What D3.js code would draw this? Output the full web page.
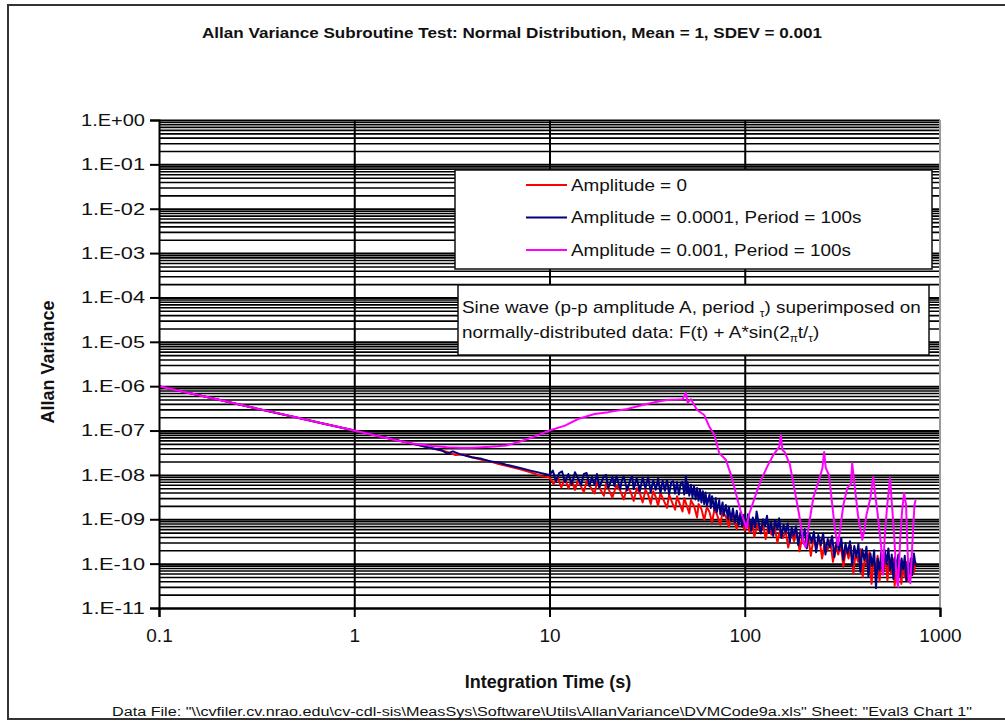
<!DOCTYPE html>
<html>
<head>
    <meta charset="utf-8">
    <script src="https://d3js.org/d3.v7.min.js"></script>
    <title>Allan Variance</title>
    <style>
        body { margin: 0; background: #fff; }
        .gridlines line { stroke: #000; }
        .gridlines .domain { stroke: none; }
        text { font-family: "Liberation Sans", Arial, sans-serif; fill: #111; }
    </style>
</head>
<body>
<svg id="svg1"></svg>
<script>
// tick values / labels
const xTicks = [0.1, 1, 10, 100, 1000];
const xTickLabels = ["0.1", "1", "10", "100", "1000"];
const yTicks = [1e0, 1e-1, 1e-2, 1e-3, 1e-4, 1e-5, 1e-6, 1e-7, 1e-8, 1e-9, 1e-10, 1e-11];
const yTickLabels = ["1.E+00", "1.E-01", "1.E-02", "1.E-03", "1.E-04", "1.E-05",
                     "1.E-06", "1.E-07", "1.E-08", "1.E-09", "1.E-10", "1.E-11"];

const legendLabels = ["Amplitude = 0", "Amplitude = 0.0001, Period = 100s", "Amplitude = 0.001, Period = 100s"];

// [tau (s), Allan variance]
const ampZero = [
    [0.1, 1e-6], [0.2, 5e-7], [0.3, 3.3e-7], [0.5, 2e-7], [0.7, 1.43e-7], [1, 1e-7], [1.5, 6.7e-8],
    [2, 5e-8], [2.5, 4e-8], [3, 3.3e-8], [3.3, 2.8e-8], [3.6, 2.9e-8], [4, 2.5e-8], [4.5, 2.2e-8],
    [5, 2.0e-8], [5.5, 1.75e-8], [6, 1.6e-8], [7, 1.35e-8], [8, 1.15e-8], [9, 9.5e-9],
    [10, 8.8e-9], [10.5, 6.2e-9], [11, 9.0e-9], [11.5, 5.2e-9], [12, 8.4e-9], [12.5, 5.0e-9], [13, 7.8e-9],
    [13.5, 4.6e-9], [14, 7.6e-9], [15, 4.1e-9], [15.5, 7.2e-9], [16, 5.8e-9], [17, 3.8e-9], [17.5, 6.8e-9],
    [18, 5.2e-9], [19, 3.4e-9], [19.5, 6.4e-9], [20, 4.9e-9], [21, 3.1e-9], [22, 5.8e-9], [23, 4.5e-9],
    [24, 2.8e-9], [25, 5.4e-9], [26, 4.2e-9], [27, 2.6e-9], [28, 5.0e-9], [29, 3.9e-9], [30, 2.4e-9],
    [31, 4.6e-9], [32, 3.6e-9], [33, 2.2e-9], [34, 4.3e-9], [35, 3.2e-9], [36, 2.0e-9], [37, 3.9e-9],
    [38, 3.0e-9], [40, 1.8e-9], [41, 3.6e-9], [42, 2.7e-9], [44, 1.65e-9], [45, 3.3e-9], [46, 2.5e-9],
    [48, 1.5e-9], [49, 3.0e-9], [50, 2.3e-9], [52, 1.35e-9], [53, 2.7e-9], [55, 2.0e-9], [57, 1.1e-9],
    [58, 2.2e-9], [60, 1.7e-9], [62, 9.5e-10], [64, 1.9e-9], [66, 1.45e-9], [68, 8.5e-10], [70, 1.7e-9],
    [72, 1.3e-9], [75, 7.5e-10], [77, 1.5e-9], [80, 1.15e-9], [83, 6.8e-10], [85, 1.35e-9], [88, 1.0e-9],
    [91, 6.0e-10], [94, 1.2e-9], [97, 8.5e-10], [100, 5.5e-10],
    [103, 9.0e-10], [106, 5.0e-10], [109, 8.5e-10], [112, 4.0e-10], [116, 7.5e-10], [120, 5.2e-10],
    [124, 8.0e-10], [128, 3.6e-10], [132, 6.8e-10], [137, 4.5e-10], [142, 7.2e-10], [147, 3.0e-10],
    [152, 6.0e-10], [157, 3.8e-10], [162, 5.5e-10], [167, 2.3e-10], [173, 5.0e-10], [179, 3.2e-10],
    [185, 5.2e-10], [191, 1.9e-10], [197, 4.2e-10], [204, 2.6e-10], [211, 4.5e-10], [218, 1.5e-10],
    [225, 3.8e-10], [233, 2.2e-10], [241, 3.9e-10], [249, 1.3e-10], [257, 3.0e-10], [265, 1.9e-10],
    [274, 3.4e-10], [283, 1.1e-10], [292, 2.6e-10], [301, 1.6e-10], [310, 2.9e-10], [320, 8.5e-11],
    [330, 2.2e-10], [340, 1.3e-10], [350, 2.5e-10], [360, 6.0e-11], [370, 1.8e-10], [380, 1.1e-10],
    [391, 2.1e-10], [402, 5.0e-11], [413, 1.5e-10], [424, 9.0e-11], [435, 1.8e-10], [446, 3.5e-11],
    [457, 1.3e-10], [468, 7.0e-11], [479, 1.5e-10], [490, 4.0e-11], [502, 1.2e-10], [514, 6.5e-11],
    [526, 1.5e-10], [538, 4.2e-11], [550, 1.2e-10], [562, 6.0e-11], [574, 1.3e-10], [586, 3.2e-11],
    [598, 1.0e-10], [610, 5.5e-11], [622, 1.2e-10], [634, 3.5e-11], [646, 9.5e-11], [658, 5.0e-11],
    [670, 1.1e-10], [682, 4.0e-11], [694, 1.0e-10], [706, 5.5e-11], [718, 1.3e-10], [732, 6.0e-11],
    [750, 1.1e-10]
];

const ampSmall = [
    [0.1, 1e-6], [0.2, 5e-7], [0.3, 3.3e-7], [0.5, 2e-7], [0.7, 1.43e-7], [1, 1e-7], [1.5, 6.7e-8],
    [2, 5e-8], [2.5, 4.0e-8], [2.8, 3.6e-8], [3.0, 3.0e-8], [3.2, 3.4e-8], [3.5, 2.9e-8], [4, 2.5e-8],
    [4.5, 2.3e-8], [5, 2.0e-8], [5.5, 1.9e-8], [6, 1.7e-8], [7, 1.45e-8], [8, 1.25e-8], [9, 1.1e-8],
    [10, 1.0e-8], [10.4, 1.25e-8], [10.8, 7.2e-9], [11.2, 1.1e-8], [11.6, 1.2e-8], [12, 6.8e-9],
    [12.5, 1.05e-8], [13, 6.2e-9], [13.5, 1.15e-8], [14, 8.4e-9], [14.5, 5.9e-9], [15, 1.05e-8],
    [15.5, 1.1e-8], [16, 5.6e-9], [16.5, 9.0e-9], [17, 6.0e-9], [17.5, 1.05e-8], [18, 5.2e-9],
    [19, 9.5e-9], [19.5, 1.0e-8], [20, 5.0e-9], [21, 9.0e-9], [21.5, 5.6e-9], [22, 9.6e-9], [23, 4.8e-9],
    [23.5, 7.6e-9], [24, 9.2e-9], [25, 4.5e-9], [26, 8.0e-9], [26.5, 9.4e-9], [27, 4.8e-9], [28, 8.4e-9],
    [29, 4.3e-9], [30, 8.6e-9], [31, 5.0e-9], [32, 8.8e-9], [33, 4.1e-9], [34, 7.6e-9], [35, 4.6e-9],
    [36, 8.2e-9], [37, 3.9e-9], [38, 7.4e-9], [39, 4.4e-9], [40, 7.8e-9], [41, 3.7e-9], [42, 6.8e-9],
    [43, 7.2e-9], [44, 3.8e-9], [45, 6.9e-9], [46, 3.6e-9], [47, 6.6e-9], [48, 7.0e-9], [49, 3.6e-9],
    [50, 9.5e-9], [50.5, 3.9e-9], [51, 6.8e-9], [52, 3.4e-9], [53, 6.0e-9], [54, 3.1e-9], [55, 5.6e-9],
    [56, 2.8e-9], [57, 5.1e-9], [58, 2.6e-9], [59, 4.7e-9], [60, 2.4e-9], [61, 4.3e-9], [62, 2.2e-9],
    [63, 4.0e-9], [64, 2.0e-9], [66, 3.6e-9], [67, 1.8e-9], [68, 3.3e-9], [70, 1.6e-9], [71, 3.0e-9],
    [72, 1.45e-9], [74, 2.7e-9], [75, 1.3e-9], [77, 2.4e-9], [78, 1.2e-9], [80, 2.1e-9], [82, 1.05e-9],
    [83, 1.9e-9], [85, 9.5e-10], [87, 1.75e-9], [89, 8.5e-10], [91, 1.55e-9], [93, 7.5e-10], [95, 1.4e-9],
    [97, 6.8e-10], [99, 1.25e-9], [100, 8.0e-10],
    [102, 7.0e-10], [104, 1.3e-9], [106, 9.0e-10], [108, 5.5e-10], [110, 1.1e-9], [113, 6.5e-10],
    [115, 1.5e-9], [118, 8.0e-10], [121, 4.8e-10], [124, 1.0e-9], [127, 7.0e-10], [130, 1.2e-9],
    [133, 5.0e-10], [136, 8.5e-10], [140, 4.2e-10], [143, 9.5e-10], [147, 6.0e-10], [150, 1.05e-9],
    [154, 3.8e-10], [158, 7.5e-10], [162, 5.0e-10], [166, 8.0e-10], [170, 3.0e-10], [174, 6.5e-10],
    [178, 4.2e-10], [183, 7.0e-10], [188, 2.6e-10], [193, 5.5e-10], [198, 3.6e-10], [203, 6.0e-10],
    [208, 2.2e-10], [214, 4.8e-10], [220, 3.0e-10], [226, 5.2e-10], [232, 1.8e-10], [238, 4.4e-10],
    [245, 2.6e-10], [252, 4.8e-10], [259, 1.6e-10], [266, 3.6e-10], [273, 2.3e-10], [280, 4.2e-10],
    [288, 1.4e-10], [296, 3.2e-10], [304, 2.0e-10], [312, 3.8e-10], [320, 1.2e-10], [328, 2.9e-10],
    [337, 1.7e-10], [346, 3.2e-10], [355, 9.0e-11], [364, 2.5e-10], [373, 1.4e-10], [382, 2.8e-10],
    [391, 6.5e-11], [400, 2.1e-10], [410, 1.2e-10], [420, 2.4e-10], [430, 5.0e-11], [440, 1.7e-10],
    [450, 9.0e-11], [460, 2.0e-10], [470, 2.8e-11], [480, 1.3e-10], [490, 7.0e-11], [500, 1.8e-10],
    [511, 6.0e-11], [522, 2.0e-10], [533, 1.0e-10], [544, 2.2e-10], [555, 7.0e-11], [566, 1.6e-10],
    [577, 4.5e-11], [588, 1.4e-10], [600, 8.0e-11], [612, 1.6e-10], [624, 5.0e-11], [636, 1.3e-10],
    [648, 7.5e-11], [660, 1.5e-10], [672, 4.0e-11], [684, 1.1e-10], [696, 6.0e-11], [708, 1.3e-10],
    [720, 5.5e-11], [735, 1.7e-10], [750, 9.0e-11]
];

const ampLarge = [
    [0.1, 1e-6], [0.2, 5e-7], [0.3, 3.3e-7], [0.4, 2.5e-7], [0.5, 2e-7], [0.7, 1.43e-7], [1, 1e-7],
    [1.3, 7.6e-8], [1.7, 5.8e-8], [2, 5.1e-8], [2.5, 4.5e-8], [3, 4.2e-8], [3.5, 4.1e-8], [4, 4.1e-8],
    [4.5, 4.2e-8], [5, 4.3e-8], [6, 4.6e-8], [7, 5.6e-8], [8, 6.8e-8], [9, 8.3e-8], [10, 1.0e-7],
    [12, 1.29e-7], [14, 1.82e-7], [17, 2.36e-7], [20, 2.6e-7], [25, 3.05e-7], [30, 3.76e-7], [35, 4.4e-7],
    [40, 4.9e-7], [45, 5.0e-7], [48, 5.1e-7], [50, 7.0e-7], [51, 4.2e-7], [53, 5.1e-7], [57, 2.9e-7],
    [62, 2.24e-7], [66, 1.2e-7], [70, 7.9e-8], [74, 3.1e-8], [80, 2.2e-8], [85, 1.0e-8], [90, 3.9e-9],
    [95, 1.6e-9], [100, 8.2e-10], [102, 6.3e-10], [105, 1.25e-9], [110, 2.3e-9], [115, 4.1e-9],
    [120, 6.9e-9], [130, 1.5e-8], [140, 2.8e-8], [150, 4.3e-8], [153, 7.9e-8], [156, 3.6e-8], [160, 3.3e-8],
    [170, 1.76e-8], [180, 4.6e-9], [190, 1.25e-9], [200, 2.9e-10], [205, 2.35e-10], [215, 9.6e-10],
    [225, 3.2e-9], [240, 7.7e-9], [250, 1.43e-8], [255, 3.3e-8], [260, 1.43e-8], [270, 1.0e-8],
    [280, 2.3e-9], [290, 5.8e-10], [300, 2.6e-10], [310, 7.4e-10], [320, 2.1e-9], [335, 5.1e-9],
    [350, 6.2e-9], [355, 1.85e-8], [365, 6.0e-9], [380, 1.25e-9], [400, 3.45e-10], [410, 5.8e-10],
    [420, 1.25e-9], [440, 3.0e-9], [455, 9.0e-9], [465, 3.9e-9], [480, 1.25e-9], [500, 2.35e-10],
    [510, 5.6e-11], [520, 3.45e-10], [535, 1.8e-9], [555, 8.5e-9], [565, 2.73e-9], [580, 5.8e-10],
    [600, 4.3e-11], [610, 3.0e-11], [625, 3.45e-10], [640, 1.62e-9], [655, 3.9e-9], [670, 2.1e-9],
    [690, 5.0e-11], [705, 3.6e-11], [720, 2.35e-10], [740, 2.1e-9], [750, 2.73e-9]
];

const seriesData = [ampZero, ampSmall, ampLarge];
const seriesColors = ["#ff0000", "#000080", "#ff00ff"];

const width = 1005;
const height = 721;
const margins = {top: 120, right: 65, bottom: 113, left: 159};
const chartWidth = width - margins.left - margins.right;
const chartHeight = height - margins.top - margins.bottom;
const textStretch = 1.18;   // the source picture is widened horizontally

let svg1 = d3.select("svg#svg1")
             .attr("width", width)
             .attr("height", height);

// outer frame
svg1.append("rect")
    .attr("x", 8).attr("y", 5)
    .attr("width", 1010).attr("height", 714)
    .attr("fill", "white")
    .attr("stroke", "#333")
    .attr("stroke-width", 2);

const scaleX = d3.scaleLog().domain([0.1, 1000]).range([0, chartWidth]);
const scaleY = d3.scaleLog().domain([1e-11, 1]).range([chartHeight, 0]);

let chartArea = svg1.append("g")
                    .attr("transform", `translate(${margins.left}, ${margins.top})`);

// minor horizontal gridlines: 2..9 in each decade
let minorY = [];
yTicks.slice(1).forEach(t => { for (let k = 2; k <= 9; k++) minorY.push(k * t); });

chartArea.append("g")
         .attr("class", "gridlines")
         .call(d3.axisLeft(scaleY).tickValues(minorY).tickSize(-chartWidth).tickFormat(""))
         .selectAll("line").attr("stroke-width", 1.6);

chartArea.append("g")
         .attr("class", "gridlines")
         .call(d3.axisLeft(scaleY).tickValues(yTicks).tickSize(-chartWidth).tickFormat(""))
         .selectAll("line").attr("stroke-width", 2);

chartArea.append("g")
         .attr("class", "gridlines")
         .attr("transform", `translate(0, ${chartHeight})`)
         .call(d3.axisBottom(scaleX).tickValues([1, 10, 100]).tickSize(-chartHeight).tickFormat(""))
         .selectAll("line").attr("stroke-width", 2);

// right border
chartArea.append("line")
         .attr("x1", chartWidth).attr("x2", chartWidth)
         .attr("y1", 0).attr("y2", chartHeight)
         .attr("stroke", "#999").attr("stroke-width", 2);

// legend box
let legend = svg1.append("g");
legend.append("rect")
      .attr("x", 455).attr("y", 170).attr("width", 477).attr("height", 99)
      .attr("fill", "white").attr("stroke", "#111").attr("stroke-width", 1.5);

legendLabels.forEach((lab, i) => {
    let ly = 185 + i * 32.5;
    legend.append("line")
          .attr("x1", 526).attr("x2", 567).attr("y1", ly).attr("y2", ly)
          .attr("stroke", seriesColors[i]).attr("stroke-width", 2);
    legend.append("text")
          .attr("transform", `translate(571, ${ly + 5.5}) scale(${textStretch}, 1)`)
          .style("font-size", "16px")
          .text(lab);
});

// note box
let note = svg1.append("g");
note.append("rect")
    .attr("x", 458).attr("y", 285).attr("width", 471).attr("height", 70)
    .attr("fill", "white").attr("stroke", "#111").attr("stroke-width", 1.5);

let line1 = note.append("text")
                .attr("transform", `translate(462, 313) scale(${textStretch}, 1)`)
                .style("font-size", "16px");
line1.append("tspan").text("Sine wave (p-p amplitude A, period ");
line1.append("tspan").attr("dy", 4).style("font-size", "10px").text("τ");
line1.append("tspan").attr("dy", -4).text(") superimposed on");

let line2 = note.append("text")
                .attr("transform", `translate(462, 338) scale(${textStretch}, 1)`)
                .style("font-size", "16px");
line2.append("tspan").text("normally-distributed data: F(t) + A*sin(2");
line2.append("tspan").attr("dy", 4).style("font-size", "10px").text("π");
line2.append("tspan").attr("dy", -4).text("t/");
line2.append("tspan").attr("dy", 4).style("font-size", "10px").text("τ");
line2.append("tspan").attr("dy", -4).text(")");

// data lines
const lineGen = d3.line()
                  .x(d => scaleX(d[0]))
                  .y(d => scaleY(d[1]));

chartArea.selectAll("path.series")
         .data(seriesData)
         .join("path")
         .attr("class", "series")
         .attr("fill", "none")
         .attr("stroke", (d, i) => seriesColors[i])
         .attr("stroke-width", 2)
         .attr("stroke-linejoin", "round")
         .attr("d", d => lineGen(d));

// axes
let leftAxis = chartArea.append("g")
    .call(d3.axisLeft(scaleY).tickValues(yTicks).tickSize(9).tickPadding(5)
            .tickFormat((d, i) => yTickLabels[i]));
leftAxis.select(".domain").attr("stroke", "#000").attr("stroke-width", 2);
leftAxis.selectAll("line").attr("stroke", "#000").attr("stroke-width", 2);
leftAxis.selectAll("text")
        .style("font-size", "17px").style("font-family", "Liberation Sans, Arial")
        .attr("fill", "#111")
        .attr("textLength", 64).attr("lengthAdjust", "spacingAndGlyphs");

let botAxis = chartArea.append("g")
    .attr("transform", `translate(0, ${chartHeight})`)
    .call(d3.axisBottom(scaleX).tickValues(xTicks).tickSize(9).tickPadding(12)
            .tickFormat((d, i) => xTickLabels[i]));
botAxis.select(".domain").attr("stroke", "#000").attr("stroke-width", 2);
botAxis.selectAll("line").attr("stroke", "#000").attr("stroke-width", 2);
botAxis.selectAll("text")
       .style("font-size", "19px").style("font-family", "Liberation Sans, Arial")
       .attr("fill", "#111");

// titles
svg1.append("text")
    .attr("x", 512).attr("y", 38)
    .attr("text-anchor", "middle")
    .style("font-size", "15px").style("font-weight", "bold")
    .style("font-family", "'Liberation Sans Narrow', 'Liberation Sans', Arial")
    .attr("textLength", 620).attr("lengthAdjust", "spacingAndGlyphs")
    .text("Allan Variance Subroutine Test: Normal Distribution, Mean = 1, SDEV = 0.001");

svg1.append("text")
    .attr("transform", "translate(54, 362) rotate(-90)")
    .attr("text-anchor", "middle")
    .style("font-size", "18px").style("font-weight", "bold")
    .text("Allan Variance");

svg1.append("text")
    .attr("x", 548).attr("y", 688)
    .attr("text-anchor", "middle")
    .style("font-size", "18px").style("font-weight", "bold")
    .text("Integration Time (s)");

svg1.append("text")
    .attr("x", 542).attr("y", 716)
    .attr("text-anchor", "middle")
    .style("font-size", "12px")
    .style("font-family", "'Liberation Sans Narrow', 'Liberation Sans', Arial")
    .attr("textLength", 860).attr("lengthAdjust", "spacingAndGlyphs")
    .text("Data File: \"\\\\cvfiler.cv.nrao.edu\\cv-cdl-sis\\MeasSys\\Software\\Utils\\AllanVariance\\DVMCode9a.xls\"  Sheet: \"Eval3 Chart 1\"");
</script>
</body>
</html>
